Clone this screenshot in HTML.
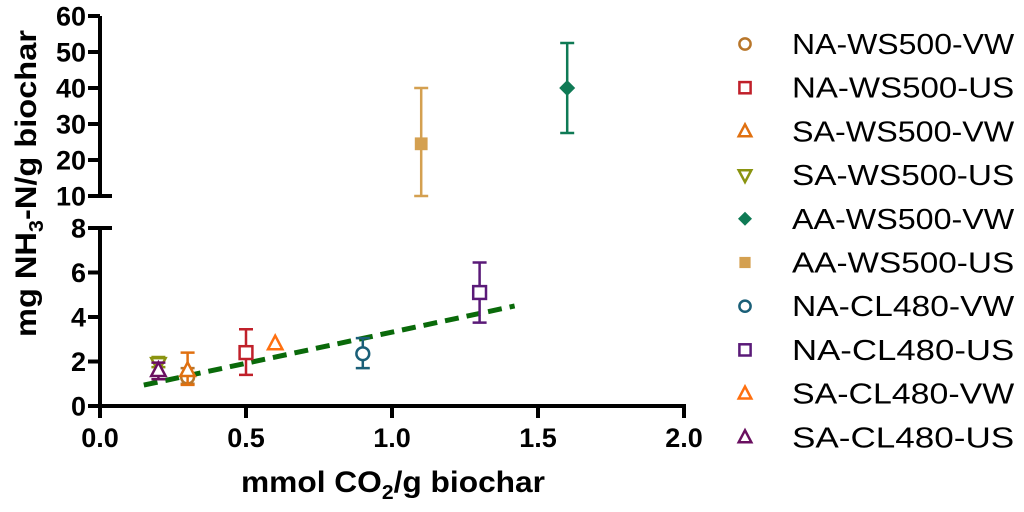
<!DOCTYPE html>
<html><head><meta charset="utf-8"><style>
html,body{margin:0;padding:0;background:#fff;}
svg{display:block;font-family:"Liberation Sans",Arial,sans-serif;}
</style></head><body>
<svg id="chart" width="1024" height="512" viewBox="0 0 1024 512" xmlns="http://www.w3.org/2000/svg">
<g id="axes"></g><g id="marks"></g><g id="legend"></g>
</svg>
<script>
const seriesNames=["NA-WS500-VW","NA-WS500-US","SA-WS500-VW","SA-WS500-US","AA-WS500-VW","AA-WS500-US","NA-CL480-VW","NA-CL480-US","SA-CL480-VW","SA-CL480-US"];
const xValues=[0.3,0.5,0.3,0.2,1.6,1.1,0.9,1.3,0.6,0.2];
const yValues=[1.3,2.4,1.6,1.9,40,24.5,2.35,5.1,2.8,1.6];
const errLow=[1.0,1.4,0.95,1.75,27.5,10,1.7,3.75,null,1.2];
const errHigh=[1.7,3.45,2.4,2.2,52.5,40,3.05,6.45,null,1.95];
const colors=["#b8762a","#c0202a","#e07010","#8a9410","#0f7a55","#d4a050","#1a5f78","#5a1a78","#ff7010","#6a1060"];
const shapes=["circle","square","tri","tridown","diamond","squarefill","circle","square","tri","tri"];
const xTicks=[0,0.5,1,1.5,2];
const xTickLabels=["0.0","0.5","1.0","1.5","2.0"];
const yTicksLow=[0,2,4,6,8];
const yTicksHigh=[10,20,30,40,50,60];
const trendX=[0.15,1.42];
const trendSlope=2.8, trendIntercept=0.52;

const NS="http://www.w3.org/2000/svg";
const X=v=>100+v*292;
const Y=v=>v<=8?406-v*22.25:196-(v-10)*3.6;
function mk(tag,attrs,parent,txt){const e=document.createElementNS(NS,tag);for(const k in attrs)e.setAttribute(k,attrs[k]);if(txt!=null)e.textContent=txt;parent.appendChild(e);return e;}
const axes=document.getElementById('axes'),marks=document.getElementById('marks'),leg=document.getElementById('legend');
const ax={stroke:"#000","stroke-width":4,fill:"none"};
let a=mk('path',Object.assign({d:`M100 ${Y(60)} V${Y(10)} H112`},ax),axes);

a=mk('path',Object.assign({d:`M112 ${Y(8)} H100 V408`},ax),axes);

a=mk('line',Object.assign({x1:98,y1:406,x2:686,y2:406},ax),axes);

const tickTxt={"font-size":27,"font-weight":"bold",fill:"#000"};
[...yTicksHigh,...yTicksLow].forEach(v=>{
  const y=Y(v);
  mk('line',Object.assign({x1:88,y1:y,x2:100,y2:y},ax),axes);
  const t=mk('text',Object.assign({x:86,y:y+9.5,"text-anchor":"end"},tickTxt),axes,String(v));
  
});
xTicks.forEach((v,i)=>{
  const x=X(v);
  mk('line',Object.assign({x1:x,y1:406,x2:x,y2:418},ax),axes);
  const t=mk('text',Object.assign({x:x,y:447,"text-anchor":"middle"},tickTxt),axes,xTickLabels[i]);
  
});
let xt=mk('text',{x:241,y:492,"font-size":30,"font-weight":"bold",textLength:304,lengthAdjust:"spacingAndGlyphs"},axes);
xt.innerHTML='mmol CO<tspan font-size="20" dy="7">2</tspan><tspan dy="-7">/g biochar</tspan>';

let yt=mk('text',{x:0,y:0,"font-size":30,"font-weight":"bold",textLength:307,lengthAdjust:"spacingAndGlyphs",transform:"translate(36,337) rotate(-90)"},axes);
yt.innerHTML='mg NH<tspan font-size="20" dy="7">3</tspan><tspan dy="-7">-N/g biochar</tspan>';

let tl=mk('line',{x1:X(trendX[0]),y1:Y(trendIntercept+trendSlope*trendX[0]),x2:X(trendX[1]),y2:Y(trendIntercept+trendSlope*trendX[1]),stroke:"#0a6a0a","stroke-width":5,"stroke-dasharray":"14 8"},marks);

function marker(g,shape,cx,cy,c,s){
  const st={stroke:c,"stroke-width":2.5,fill:"#fff"};
  if(shape==='circle')mk('circle',Object.assign({cx,cy,r:s*0.8},st),g);
  else if(shape==='square')mk('rect',Object.assign({x:cx-s*0.8,y:cy-s*0.8,width:s*1.6,height:s*1.6},st),g);
  else if(shape==='squarefill')mk('rect',{x:cx-s*0.8,y:cy-s*0.8,width:s*1.6,height:s*1.6,fill:c},g);
  else if(shape==='tri')mk('polygon',Object.assign({points:`${cx},${cy-s} ${cx-s*0.9},${cy+s*0.7} ${cx+s*0.9},${cy+s*0.7}`},st),g);
  else if(shape==='tridown')mk('polygon',Object.assign({points:`${cx},${cy+s} ${cx-s*0.9},${cy-s*0.7} ${cx+s*0.9},${cy-s*0.7}`},st),g);
  else if(shape==='diamond')mk('polygon',{points:`${cx},${cy-s} ${cx+s},${cy} ${cx},${cy+s} ${cx-s},${cy}`,fill:c},g);
}
seriesNames.forEach((n,i)=>{
  const g=mk('g',{},marks);
  
  
  const cx=X(xValues[i]),cy=Y(yValues[i]),c=colors[i];
  if(errLow[i]!=null){
    const y1=Y(errLow[i]),y2=Y(errHigh[i]);
    mk('path',{d:`M${cx} ${y1}V${y2}M${cx-7} ${y1}H${cx+7}M${cx-7} ${y2}H${cx+7}`,stroke:c,"stroke-width":2.5,fill:"none"},g);
  }
  marker(g,shapes[i],cx,cy,c,8);
  const ly=44+i*43.7;
  const lg=mk('g',{},leg);
  
  
  marker(lg,shapes[i],745,ly,c,7);
  mk('text',{x:792,y:ly+10,"font-size":29,fill:"#000",textLength:n.length*20.2,lengthAdjust:"spacingAndGlyphs"},lg,n);
});
</script>
</body></html>
